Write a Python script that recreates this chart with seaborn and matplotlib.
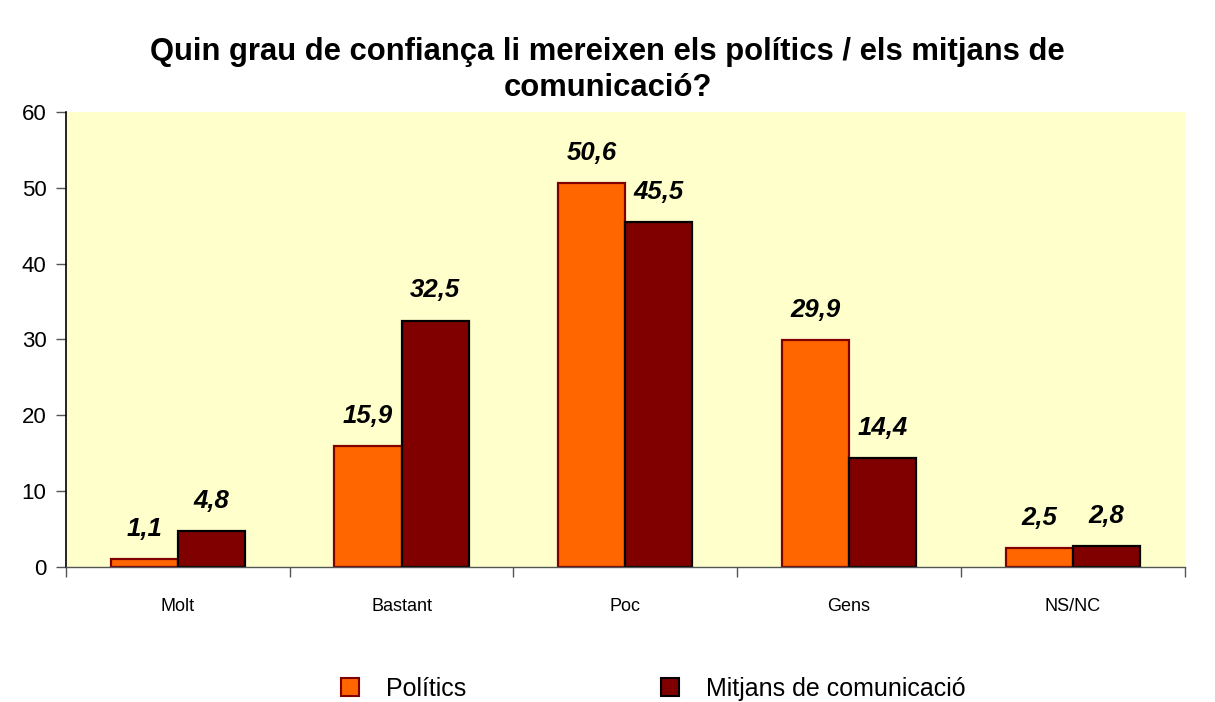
import numpy as np
import pandas as pd
import matplotlib.pyplot as plt
import seaborn as sns

categories = ["Molt", "Bastant", "Poc", "Gens", "NS/NC"]
politics = [1.1, 15.9, 50.6, 29.9, 2.5]
media = [4.8, 32.5, 45.5, 14.4, 2.8]
series = ["Polítics", "Mitjans de comunicació"]
title = "Quin grau de confiança li mereixen els polítics / els mitjans de\ncomunicació?"

sns.set_theme(style="white")
plt.rcParams['font.family'] = ['Liberation Sans', 'DejaVu Sans']
plt.rcParams['text.color'] = 'black'
plt.rcParams['xtick.color'] = 'black'
plt.rcParams['ytick.color'] = 'black'

df = pd.DataFrame({
    "cat": categories * 2,
    "val": politics + media,
    "serie": [series[0]] * 5 + [series[1]] * 5,
})

colors = ["#FF6600", "#800000"]
edges = ["#800000", "#000000"]

fig = plt.figure(figsize=(12.15, 7.02), dpi=100)
ax = fig.add_axes([0.0543, 0.1923, 0.9207, 0.6482])
ax.set_facecolor("#FFFFCC")

sns.barplot(data=df, x="cat", y="val", hue="serie", palette=colors,
            width=0.6, gap=0, saturation=1, ax=ax, legend=False)

for cont, ec in zip(ax.containers, edges):
    for bar in cont:
        bar.set_edgecolor(ec)
        bar.set_linewidth(1.6)
    ax.bar_label(cont, labels=[f"{v:.1f}".replace(".", ",") for v in cont.datavalues],
                 padding=13, fontsize=18.5, fontweight="bold", fontstyle="italic")

ax.set_xlim(-0.5, 4.5)
ax.set_ylim(0, 60)
ax.set_yticks(range(0, 61, 10))
ax.set_xlabel("")
ax.set_ylabel("")
ax.tick_params(axis="y", labelsize=16, length=7, width=1, color="#555555", left=True, pad=7)
ax.tick_params(axis="x", which="major", labelsize=13, length=0, pad=22)
ax.set_xticks(np.arange(-0.5, 5, 1), minor=True)
ax.tick_params(axis="x", which="minor", length=7, width=1, color="#555555", bottom=True)

for s in ["top", "right"]:
    ax.spines[s].set_visible(False)
ax.spines["left"].set_color("black")
ax.spines["left"].set_linewidth(1.2)
ax.spines["bottom"].set_color("#555555")
ax.spines["bottom"].set_linewidth(1)

fig.suptitle(title, fontsize=22.3, fontweight="bold", x=0.5, y=0.948, va="top", linespacing=1.28)

handles = [plt.Rectangle((0, 0), 1, 1, facecolor=c, edgecolor=e, linewidth=1.5)
           for c, e in zip(colors, edges)]
fig.legend(handles, series, loc="lower center", bbox_to_anchor=(0.538, -0.03), ncol=2,
           frameon=False, fontsize=18, handlelength=0.7, handleheight=0.7,
           handletextpad=1.1, columnspacing=7.8)

fig.savefig("out.png", dpi=100)
